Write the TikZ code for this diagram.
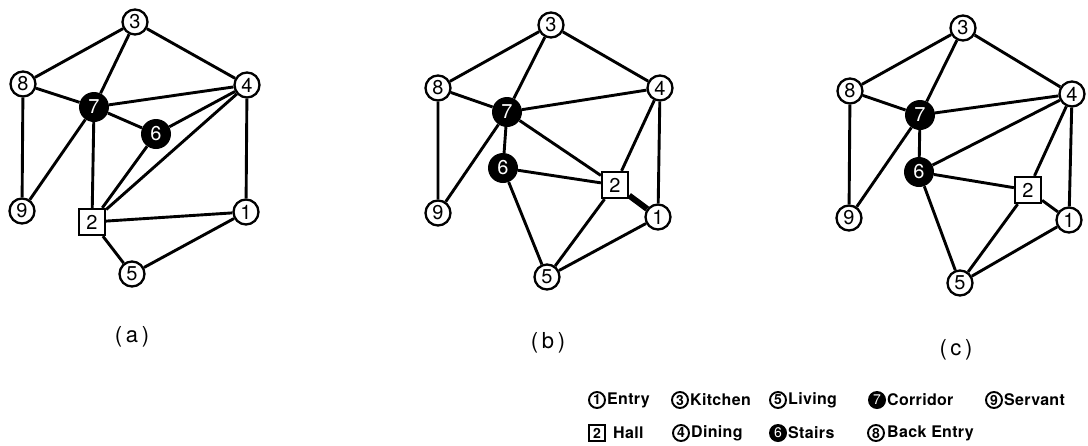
\documentclass[tikz,border=0pt]{standalone}
\usepackage{fontspec}
\setmainfont{TeX Gyre Heros}
\begin{document}
\begin{tikzpicture}[x=1pt,y=-1pt,
  edge/.style={line width=2.9pt},
  thickedge/.style={line width=6pt},
  room/.style={circle,draw,line width=2.3pt,fill=white,minimum size=25pt,inner sep=0pt,font=\fontsize{20}{20}\selectfont},
  core/.style={circle,fill=black,text=white,minimum size=30pt,inner sep=0pt,font=\fontsize{20}{20}\selectfont},
  hall/.style={rectangle,draw,line width=2.3pt,fill=white,minimum size=26pt,inner sep=0pt,font=\fontsize{20}{20}\selectfont},
  key/.style={circle,draw,line width=1.9pt,fill=white,minimum size=16pt,inner sep=0pt,font=\fontsize{14}{14}\selectfont\bfseries},
  keycore/.style={circle,fill=black,text=white,minimum size=18pt,inner sep=0pt,font=\fontsize{14}{14}\selectfont},
  keyhall/.style={rectangle,draw,line width=1.9pt,fill=white,minimum size=16pt,inner sep=0pt,font=\fontsize{14}{14}\selectfont\bfseries},
  keytext/.style={anchor=west,inner sep=0pt,font=\fontsize{16}{16}\selectfont\bfseries\addfontfeature{LetterSpace=2}},
  caption/.style={font=\fontsize{22}{22}\selectfont}
]
\useasboundingbox (0,0) rectangle (1088,445);

% ---------- scheme (a) ----------
\node[room] (a3) at (135,22) {3};
\node[room] (a8) at (23,84) {8};
\node[room] (a4) at (247,85) {4};
\node[core] (a7) at (94,107) {7};
\node[core] (a6) at (156,134) {6};
\node[room] (a9) at (22,211) {9};
\node[hall] (a2) at (92,222) {2};
\node[room] (a1) at (246,212) {1};
\node[room] (a5) at (132,274) {5};
\draw[edge] (a3)--(a8) (a3)--(a7) (a3)--(a4) (a8)--(a7) (a8)--(a9)
  (a7)--(a4) (a7)--(a6) (a7)--(a9) (a7)--(a2) (a6)--(a4) (a6)--(a2)
  (a2)--(a4) (a4)--(a1) (a2)--(a1) (a2)--(a5) (a5)--(a1);
\node[caption] (capa) at (132,337) {(\,a\,)};

% ---------- scheme (b) ----------
\node[room] (b3) at (551,25) {3};
\node[room] (b8) at (438,88) {8};
\node[room] (b4) at (660,88) {4};
\node[core] (b7) at (507,112) {7};
\node[core] (b6) at (503,168) {6};
\node[hall] (b2) at (615,185) {2};
\node[room] (b1) at (658,217) {1};
\node[room] (b9) at (438,213) {9};
\node[room] (b5) at (547,277) {5};
\draw[edge] (b3)--(b8) (b3)--(b7) (b3)--(b4) (b8)--(b7) (b8)--(b9)
  (b7)--(b4) (b7)--(b9) (b7)--(b6) (b7)--(b2) (b6)--(b2) (b6)--(b5)
  (b2)--(b4) (b4)--(b1) (b2)--(b5) (b5)--(b1);
\draw[thickedge] (b2)--(b1);
\node[caption] (capb) at (548,343) {(\,b\,)};

% ---------- scheme (c) ----------
\node[room] (c3) at (963,28) {3};
\node[room] (c8) at (850,91) {8};
\node[room] (c4) at (1072,94) {4};
\node[core] (c7) at (920,115) {7};
\node[core] (c6) at (919,172) {6};
\node[hall] (c2) at (1028,190) {2};
\node[room] (c1) at (1069,220) {1};
\node[room] (c9) at (849,218) {9};
\node[room] (c5) at (960,283) {5};
\draw[edge] (c3)--(c8) (c3)--(c7) (c3)--(c4) (c8)--(c7) (c8)--(c9)
  (c7)--(c4) (c7)--(c9) (c7)--(c6) (c6)--(c4) (c6)--(c2) (c6)--(c5)
  (c2)--(c4) (c2)--(c1) (c4)--(c1) (c2)--(c5) (c5)--(c1);
\node[caption] (capc) at (956,350) {(\,c\,)};

% ---------- key ----------
\node[key] (k1) at (597,400) {1};
\node[keytext] (t1) at (607,400) {Entry};
\node[key] (k3) at (680,400) {3};
\node[keytext] (t3) at (690,400) {Kitchen};
\node[key] (k5) at (778,400) {5};
\node[keytext] (t5) at (788,400) {Living};
\node[keycore] (k7) at (877,400) {7};
\node[keytext] (t7) at (887,400) {Corridor};
\node[key] (k9) at (994,400) {9};
\node[keytext] (t9) at (1004,400) {Servant};

\node[keyhall] (k2) at (597,433) {2};
\node[keytext] (t2) at (613,433) {Hall};
\node[key] (k4) at (681,433) {4};
\node[keytext] (t4) at (691,433) {Dining};
\node[keycore] (k6) at (778,433) {6};
\node[keytext] (t6) at (788,433) {Stairs};
\node[key] (k8) at (876,433) {8};
\node[keytext] (t8) at (887,433) {Back Entry};
\end{tikzpicture}
\end{document}
